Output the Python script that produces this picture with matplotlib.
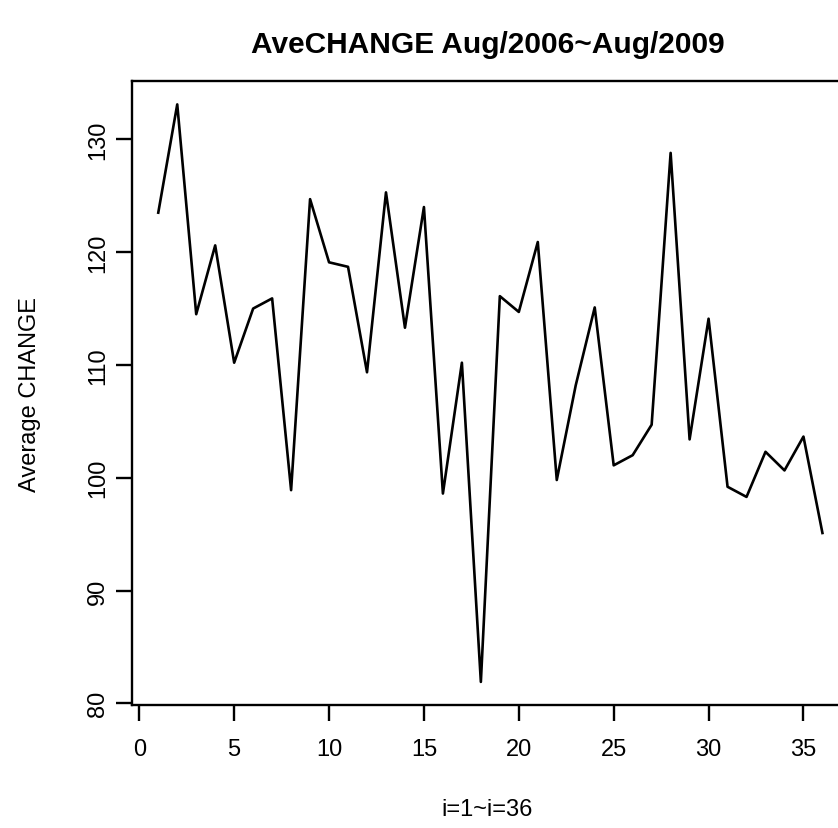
import matplotlib
matplotlib.use("Agg")
import matplotlib.pyplot as plt
import numpy as np

plt.rcParams['font.family'] = ['Liberation Sans', 'DejaVu Sans']

# month index and average CHANGE values
months = list(range(1, 37))
ave_change = [123.5, 133.1, 114.5, 120.6, 110.2, 115.0, 115.9, 98.9, 124.7, 119.1,
              118.7, 109.35, 125.3, 113.3, 124.0, 98.6, 110.2, 81.9, 116.1, 114.7,
              120.9, 99.8, 108.2, 115.1, 101.1, 102.0, 104.7, 128.8, 103.4, 114.1,
              99.2, 98.3, 102.3, 100.65, 103.65, 95.1]
xticks = [0, 5, 10, 15, 20, 25, 30, 35]
yticks = [80, 90, 100, 110, 120, 130]

fig = plt.figure(figsize=(8.38, 8.29), dpi=100)
W, H = 838, 829
ax = fig.add_axes([131.7 / W, 1 - 706 / H, (849 - 131.7) / W, (706 - 82.3) / H])

ax.plot(months, ave_change, color='black', lw=1.9)

# R-style 4% axis extension
xr = max(months) - min(months)
yr = max(ave_change) - min(ave_change)
ax.set_xlim(min(months) - 0.04 * xr, max(months) + 0.04 * xr)
ax.set_ylim(min(ave_change) - 0.04 * yr, max(ave_change) + 0.04 * yr)

ax.set_xticks(xticks)
ax.set_yticks(yticks)
ax.set_yticklabels([str(v) for v in yticks], rotation=90, va='center')
ax.tick_params(direction='out', length=11.5, width=1.7, labelsize=17, color='black')
ax.tick_params(axis='x', pad=12)
ax.tick_params(axis='y', pad=5)
for s in ax.spines.values():
    s.set_linewidth(1.7)

fig.text(487.5 / W, 1 - 45 / H, 'AveCHANGE Aug/2006~Aug/2009', ha='center', va='center',
         fontsize=21.5, fontweight='bold')
fig.text(487.5 / W, 1 - 810 / H, 'i=1~i=36', ha='center', va='center', fontsize=17)
fig.text(30 / W, 1 - 394 / H, 'Average CHANGE', ha='center', va='center', rotation=90, fontsize=17)

plt.savefig('out.png', dpi=100)
